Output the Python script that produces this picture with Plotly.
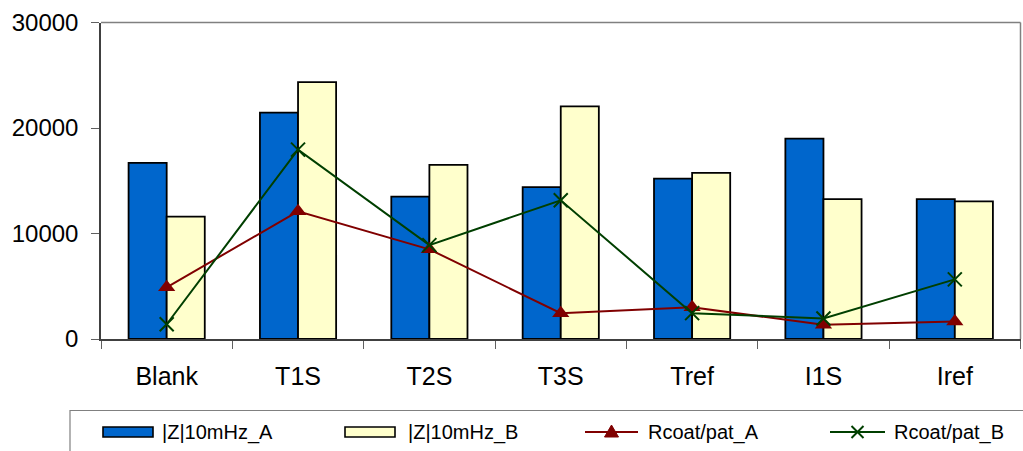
import plotly.graph_objects as go

# Samples and measured values
categories = ["Blank", "T1S", "T2S", "T3S", "Tref", "I1S", "Iref"]
z10mhz_a = [16700, 21450, 13500, 14400, 15200, 19000, 13250]
z10mhz_b = [11600, 24350, 16500, 22050, 15750, 13250, 13050]
rcoat_a = [4900, 12100, 8500, 2450, 3000, 1350, 1650]
rcoat_b = [1400, 17950, 8900, 13150, 2450, 1950, 5650]
series_names = ["|Z|10mHz_A", "|Z|10mHz_B", "Rcoat/pat_A", "Rcoat/pat_B"]
y_ticks = [0, 10000, 20000, 30000]

W, H = 1023, 451
FONT = "Liberation Sans, Arial, sans-serif"
BLUE, YELLOW = "#0066CC", "#FFFFCC"
RED, GREEN = "#800000", "#003F00"


def fx(x):
    return x / W


def fy(y):
    return 1 - y / H


fig = go.Figure()
fig.add_trace(go.Bar(x=categories, y=z10mhz_a, name=series_names[0],
                     marker=dict(color=BLUE, line=dict(color="black", width=1.8))))
fig.add_trace(go.Bar(x=categories, y=z10mhz_b, name=series_names[1],
                     marker=dict(color=YELLOW, line=dict(color="black", width=1.8))))
fig.add_trace(go.Scatter(x=categories, y=rcoat_a, name=series_names[2], mode="lines+markers",
                         line=dict(color=RED, width=2),
                         marker=dict(symbol="triangle-up", size=15, color=RED)))
fig.add_trace(go.Scatter(x=categories, y=rcoat_b, name=series_names[3], mode="lines+markers",
                         line=dict(color=GREEN, width=2),
                         marker=dict(symbol="x-thin", size=14, color=GREEN,
                                     line=dict(color=GREEN, width=2))))

shapes = []
annotations = []

# Grey frame on the top and right of the plot area
shapes.append(dict(type="line", xref="paper", yref="paper", x0=fx(101), x1=fx(1020.5),
                   y0=fy(22.5), y1=fy(22.5), line=dict(color="#808080", width=1.5)))
shapes.append(dict(type="line", xref="paper", yref="paper", x0=fx(1020.5), x1=fx(1020.5),
                   y0=fy(22.5), y1=fy(339), line=dict(color="#808080", width=1.5)))

# Legend box along the bottom
shapes.append(dict(type="rect", xref="paper", yref="paper", x0=fx(70), x1=fx(1040),
                   y0=fy(410.5), y1=fy(470), line=dict(color="#808080", width=1.2),
                   fillcolor="rgba(0,0,0,0)"))

legend_y = 432
# bar swatches
for (x0, x1), color in zip([(103, 153), (345, 395)], [BLUE, YELLOW]):
    shapes.append(dict(type="rect", xref="paper", yref="paper", x0=fx(x0), x1=fx(x1),
                       y0=fy(legend_y + 5), y1=fy(legend_y - 5), fillcolor=color,
                       line=dict(color="black", width=1.6)))
# line swatches
for (x0, x1), color in zip([(585, 638), (830, 885)], [RED, GREEN]):
    shapes.append(dict(type="line", xref="paper", yref="paper", x0=fx(x0), x1=fx(x1),
                       y0=fy(legend_y), y1=fy(legend_y), line=dict(color=color, width=2)))
# triangle marker
cx = 611.5
shapes.append(dict(type="path", xref="paper", yref="paper",
                   path=f"M {fx(cx - 7)} {fy(legend_y + 5)} L {fx(cx + 7)} {fy(legend_y + 5)} "
                        f"L {fx(cx)} {fy(legend_y - 7)} Z",
                   fillcolor=RED, line=dict(color=RED, width=1)))
# cross marker
cx = 857.5
for d in (1, -1):
    shapes.append(dict(type="line", xref="paper", yref="paper",
                       x0=fx(cx - 6), x1=fx(cx + 6), y0=fy(legend_y - 6 * d), y1=fy(legend_y + 6 * d),
                       line=dict(color=GREEN, width=2)))

for name, tx in zip(series_names, [160, 406, 646, 892]):
    annotations.append(dict(xref="paper", yref="paper", x=fx(tx), y=fy(legend_y),
                            xanchor="left", yanchor="middle", text=name, showarrow=False,
                            font=dict(family=FONT, size=20, color="black")))

fig.update_layout(
    width=W, height=H,
    margin=dict(l=0, r=0, t=0, b=0, autoexpand=False),
    paper_bgcolor="white", plot_bgcolor="white",
    barmode="group", bargap=0.42, bargroupgap=0,
    showlegend=False,
    font=dict(family=FONT, size=22, color="black"),
    shapes=shapes, annotations=annotations,
    xaxis=dict(domain=[fx(101), fx(1020.5)], type="category", automargin=False,
               showline=True, linecolor="#404040", linewidth=1.5,
               ticks="outside", tickson="boundaries", ticklen=8, tickcolor="#606060",
               tickwidth=1.2, showgrid=False, ticklabelstandoff=14,
               tickfont=dict(family=FONT, size=25, color="black")),
    yaxis=dict(domain=[fy(339), fy(22.5)], range=[0, 30000], tickvals=y_ticks,
               tickformat="d", automargin=False,
               showline=True, linecolor="#404040", linewidth=1.5,
               ticks="outside", ticklen=8, tickcolor="#606060", tickwidth=1.2,
               showgrid=False, zeroline=False, ticklabelstandoff=8,
               tickfont=dict(family=FONT, size=24, color="black")),
)

fig.write_html("out.html")
